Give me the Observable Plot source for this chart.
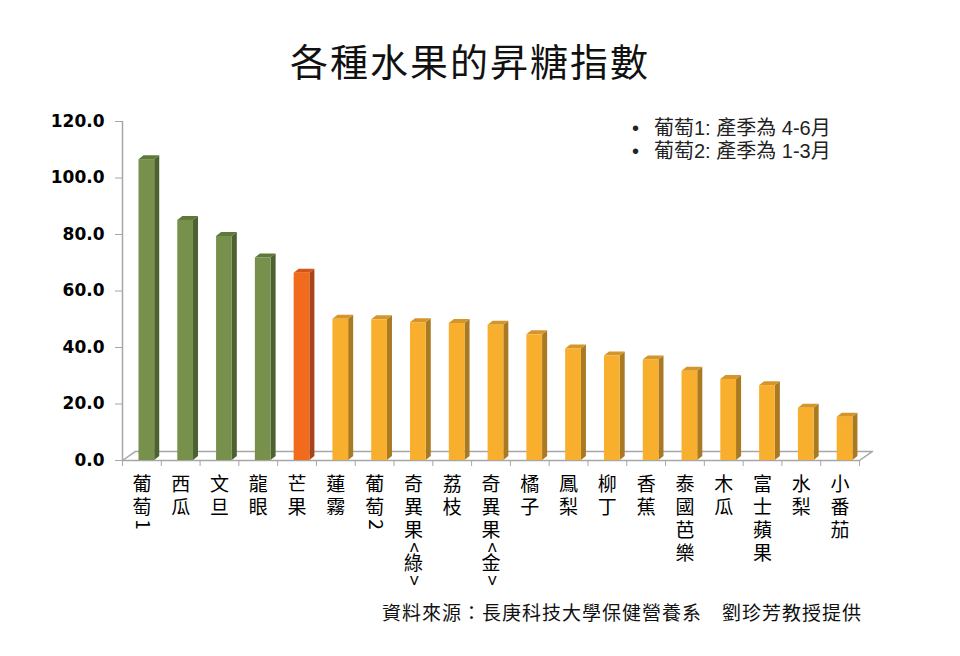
<!DOCTYPE html>
<html><head><meta charset="utf-8">
<script src="https://cdn.jsdelivr.net/npm/d3@7"></script>
<script src="https://cdn.jsdelivr.net/npm/@observablehq/plot@0.6"></script>
<style>
body{margin:0;background:#fff;}
#wrap{position:relative;width:960px;height:656px;font-family:"Noto Sans CJK TC","Noto Sans",sans-serif;overflow:hidden;}
#chart{position:absolute;left:0;top:0;}
#title{position:absolute;left:0;width:940px;top:37px;text-align:center;font-size:38px;line-height:46px;letter-spacing:2px;color:#111;font-weight:400;}
#notes{position:absolute;left:632px;top:117px;font-size:20px;line-height:23px;color:#222;font-family:"Liberation Sans","Noto Sans CJK TC",sans-serif;}
#notes span{display:inline-block;width:22px;}
#caption{position:absolute;left:382px;top:599px;font-size:19px;line-height:26px;letter-spacing:1px;color:#111;white-space:pre;}
</style></head>
<body>
<div id="wrap">
  <div id="chart"></div>
  <div id="title">各種水果的昇糖指數</div>
  <div id="notes"><div><span>•</span>葡萄1: 產季為 4-6月</div><div><span>•</span>葡萄2: 產季為 1-3月</div></div>
  <div id="caption">資料來源：長庚科技大學保健營養系　劉珍芳教授提供</div>
</div>
<script>
const categories = ["葡萄1","西瓜","文旦","龍眼","芒果","蓮霧","葡萄2","奇異果<綠>","荔枝","奇異果<金>","橘子","鳳梨","柳丁","香蕉","泰國芭樂","木瓜","富士蘋果","水梨","小番茄"];
const values = [106.5,85,79.3,71.7,66.3,50,49.8,48.8,48.5,47.9,44.5,39.5,37,35.6,31.6,28.7,26.5,18.5,15.3];
const tiers = ["high","high","high","high","mango","mid","mid","mid","mid","mid","mid","mid","mid","mid","mid","mid","mid","mid","mid"];
const yTicks = [0,20,40,60,80,100,120];

const palette = {
  high:  {front:"#77914D", side:"#4D6230", cap:"#5E7A3A"},
  mango: {front:"#F26A1B", side:"#A8441A", cap:"#D5561A"},
  mid:   {front:"#F7AF2D", side:"#A97A22", cap:"#D4962A"}
};

const W = 960, H = 656, mL = 122, mR = 101, mT = 121, mB = 196;
const n = categories.length;
const rows = categories.map((c,i)=>({cat:c, i, v:values[i], tier:tiers[i]}));
// 3D geometry (in scale units)
const fx1 = -0.075, fx2 = 0.33, d = 0.13, dy = 1.4;
const side = rows.flatMap(r=>[
  {cat:r.cat, tier:r.tier, x:r.i+fx2, y1:0, y2:r.v},
  {cat:r.cat, tier:r.tier, x:r.i+fx2+d, y1:dy, y2:r.v+dy}
]);
const cap = rows.flatMap(r=>[
  {cat:r.cat, tier:r.tier, x:r.i+fx1, y1:r.v, y2:r.v},
  {cat:r.cat, tier:r.tier, x:r.i+fx1+d, y1:r.v, y2:r.v+dy},
  {cat:r.cat, tier:r.tier, x:r.i+fx2, y1:r.v, y2:r.v+dy},
  {cat:r.cat, tier:r.tier, x:r.i+fx2+d, y1:r.v+dy, y2:r.v+dy}
]);
const x0 = -0.5, x1 = n - 0.5, fdx = 0.335, fdy = 3.2;
const floor = [
  {x:x0, y:0},{x:x1, y:0},{x:x1+fdx, y:fdy},{x:x0+fdx, y:fdy},{x:x0, y:0}
];
const bounds = d3.range(n+1).map(k=>k-0.5);

// vertical (top-to-bottom) category labels: CJK upright, Latin rotated
const pxPerUnit = (H - mB - mT) / 120;
const labelChars = rows.flatMap(r=>{
  let cursor = 14; // px below the baseline
  return Array.from(r.cat).map(ch=>{
    const latin = /[\x00-\x7F]/.test(ch);
    const center = cursor + (latin ? 4 : 10);
    cursor += latin ? 10 : 23;
    return {i:r.i, ch, rot: latin ? 90 : 0, y: -center / pxPerUnit};
  });
});

const chart = Plot.plot({
  width:W, height:H,
  marginLeft:mL, marginRight:mR, marginTop:mT, marginBottom:mB,
  style:{background:"transparent", overflow:"visible"},
  x:{type:"linear", domain:[x0,x1], axis:null},
  y:{domain:[0,120], axis:null, clamp:false},
  marks:[
    Plot.line(floor, {x:"x", y:"y", stroke:"#A6A6A6", strokeWidth:1.5}),
    Plot.ruleX([x0], {y1:0, y2:120, stroke:"#A6A6A6", strokeWidth:1.5}),
    Plot.axisY({ticks:yTicks, tickFormat:d3.format(".1f"), tickSize:7, tickPadding:11,
      stroke:"#A6A6A6", color:"#000", fontSize:17, fontWeight:"bold",
      fontFamily:"DejaVu Sans, sans-serif", anchor:"left", label:null}),
    Plot.axisX({ticks:bounds, tickFormat:()=>"", tickSize:6, stroke:"#A6A6A6", anchor:"bottom", label:null}),
    Plot.areaY(side, {x:"x", y1:"y1", y2:"y2", z:"cat", fill:d=>palette[d.tier].side, curve:"linear"}),
    Plot.areaY(cap, {x:"x", y1:"y1", y2:"y2", z:"cat", fill:d=>palette[d.tier].cap, curve:"linear"}),
    Plot.rectY(rows, {x1:r=>r.i+fx1, x2:r=>r.i+fx2, y1:0, y2:"v", fill:r=>palette[r.tier].front}),
    Plot.text(labelChars, {x:"i", y:"y", text:"ch", rotate:"rot", lineAnchor:"middle",
      fontSize:19, fill:"#000", fontFamily:"Noto Sans CJK TC, sans-serif"})
  ]
});
document.getElementById("chart").appendChild(chart);
</script>
</body></html>
